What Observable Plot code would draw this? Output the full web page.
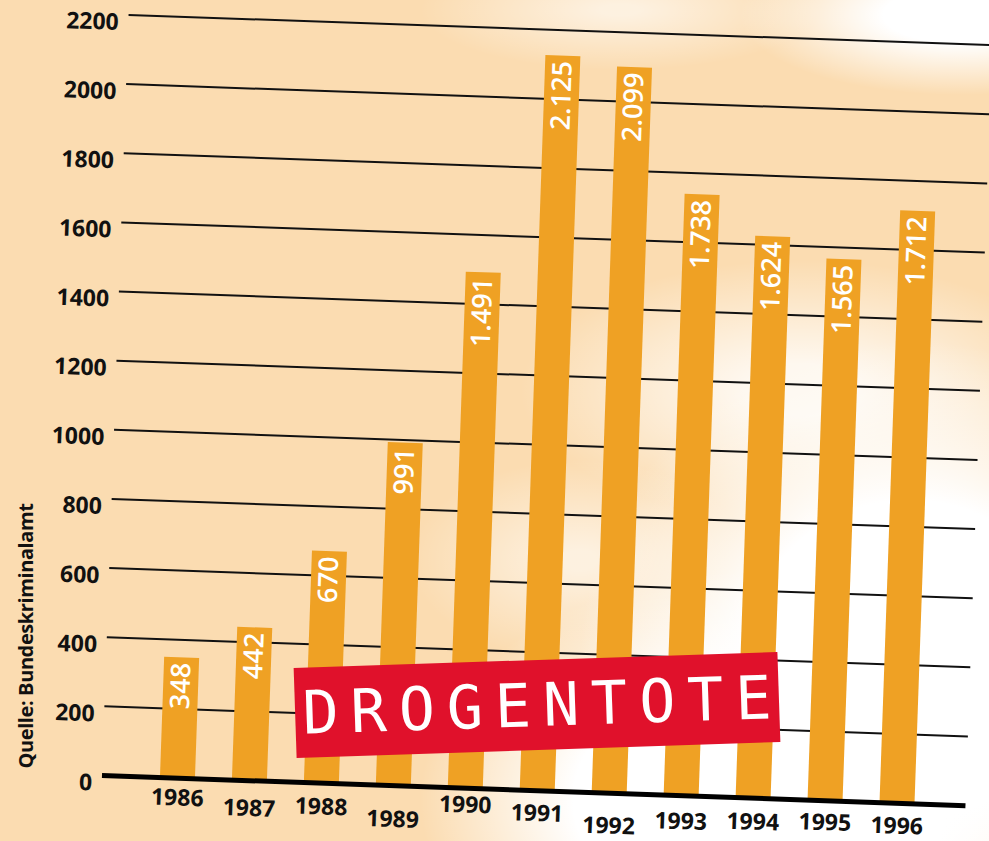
<!DOCTYPE html>
<html lang="de">
<head>
<meta charset="utf-8">
<script src="https://cdn.jsdelivr.net/npm/d3@7"></script>
<script src="https://cdn.jsdelivr.net/npm/@observablehq/plot@0.6"></script>
<style>
  html, body { margin: 0; padding: 0; }
  body { width: 989px; height: 841px; overflow: hidden; }
  #page {
    position: relative; width: 989px; height: 841px; overflow: hidden;
    background:
      radial-gradient(ellipse 340px 230px at 760px 800px, #fff 55%, rgba(255,255,255,0) 100%),
      radial-gradient(ellipse 330px 320px at 910px 660px, #fff 50%, rgba(255,255,255,0) 100%),
      radial-gradient(ellipse 220px 80px at 960px 15px, #fff 35%, rgba(255,255,255,0) 100%),
      radial-gradient(ellipse 280px 130px at 800px 390px, rgba(255,255,255,0.8) 20%, rgba(255,255,255,0) 100%),
      radial-gradient(ellipse 170px 100px at 580px 560px, rgba(255,255,255,0.6) 10%, rgba(255,255,255,0) 100%),
      radial-gradient(ellipse 200px 60px at 620px 10px, rgba(255,255,255,0.6) 10%, rgba(255,255,255,0) 100%),
      #FBDCB1;
    font-family: "Open Sans", "DejaVu Sans", sans-serif;
  }
  #chart { position: absolute; left: 0; top: 0; }
  #source {
    position: absolute; left: 25px; top: 636px;
    transform: translate(-50%, -50%) rotate(-90deg);
    white-space: nowrap; font-weight: 700; font-size: 20px; color: #111;
    letter-spacing: -0.4px;
  }
  #title {
    position: absolute; left: 537px; top: 705px; width: 484px; height: 90px;
    transform: translate(-50%, -50%) rotate(-1.9deg);
    background: #E0112B;
    display: flex; align-items: center; justify-content: center;
    color: #fff; font-family: "DejaVu Sans Mono", monospace; font-size: 60px;
    letter-spacing: 12px; text-indent: 12px; line-height: 1;
  }
</style>
</head>
<body>
<div id="page">
  <div id="chart"></div>
  <div id="source">Quelle: Bundeskriminalamt</div>
  <div id="title">DROGENTOTE</div>
</div>
<script>
// ---- data ----
const years = ["1986","1987","1988","1989","1990","1991","1992","1993","1994","1995","1996"];
const deaths = [348, 442, 670, 991, 1491, 2125, 2099, 1738, 1624, 1565, 1712];
const deathLabels = ["348","442","670","991","1.491","2.125","2.099","1.738","1.624","1.565","1.712"];
const yTicks = [0, 200, 400, 600, 800, 1000, 1200, 1400, 1600, 1800, 2000, 2200];
// layout: how far each year label sits below the baseline (px)
const yearLabelDrop = [20, 28, 24, 34, 17, 23, 33, 26, 24, 22, 23];

const table = years.map((year, i) => ({year, deaths: deaths[i], label: deathLabels[i]}));

const tickFont = {fontSize: 23, fontWeight: 700, fill: "#111", fontFamily: "Open Sans"};

const chart = Plot.plot({
  width: 989,
  height: 841,
  marginLeft: 102,
  marginRight: 23,
  marginTop: 14,
  marginBottom: 66,
  style: {background: "transparent", overflow: "visible"},
  x: {domain: years, range: [142, 934], paddingInner: 0.51, paddingOuter: 0.255, axis: null},
  y: {domain: [0, 2200], axis: null},
  marks: [
    Plot.ruleY(yTicks.filter(t => t > 0), {stroke: "#111", strokeWidth: 2}),
    Plot.barY(table, {x: "year", y: "deaths", fill: "#EFA124"}),
    Plot.ruleY([0], {stroke: "#000", strokeWidth: 5}),
    Plot.text(table, {x: "year", y: "deaths", text: "label", rotate: -90, textAnchor: "end", dy: 5,
      fill: "white", fontSize: 27, fontWeight: 600, fontFamily: "Open Sans"}),
    Plot.text(yTicks, {y: d => d, text: d => String(d), frameAnchor: "left", textAnchor: "end",
      dx: -10, dy: 8, ...tickFont}),
    ...years.map((yr, i) => Plot.text([yr], {x: d => d, y: () => 0, text: d => d, dy: yearLabelDrop[i], ...tickFont}))
  ]
});

// tilt the whole drawing slightly, as in the printed graphic
const ns = "http://www.w3.org/2000/svg";
const wrap = document.createElementNS(ns, "g");
wrap.setAttribute("transform", "rotate(2 102 775)");
const kids = Array.from(chart.childNodes);
for (const k of kids) wrap.appendChild(k);
chart.appendChild(wrap);

document.getElementById("chart").appendChild(chart);
</script>
</body>
</html>
